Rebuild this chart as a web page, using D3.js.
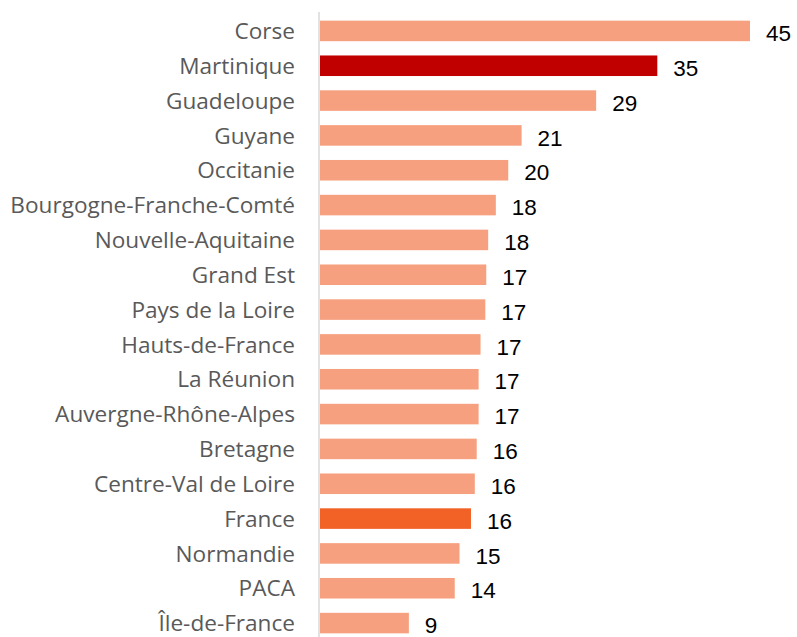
<!DOCTYPE html>
<html>
<head>
<meta charset="utf-8">
<script src="https://cdn.jsdelivr.net/npm/d3@7"></script>
<style>
  body { margin: 0; background: #fff; }
  svg { display: block; }
</style>
</head>
<body>
<svg width="797" height="637"></svg>
<script>
  // regions, top to bottom
  const regions = ["Corse", "Martinique", "Guadeloupe", "Guyane", "Occitanie",
    "Bourgogne-Franche-Comté", "Nouvelle-Aquitaine", "Grand Est", "Pays de la Loire",
    "Hauts-de-France", "La Réunion", "Auvergne-Rhône-Alpes", "Bretagne",
    "Centre-Val de Loire", "France", "Normandie", "PACA", "Île-de-France"];
  const values = [45, 35.3, 28.9, 21.1, 19.7, 18.4, 17.6, 17.4, 17.3,
    16.8, 16.6, 16.6, 16.4, 16.2, 15.8, 14.6, 14.1, 9.3];
  const labels = ["45", "35", "29", "21", "20", "18", "18", "17", "17",
    "17", "17", "17", "16", "16", "16", "15", "14", "9"];

  const data = regions.map((r, i) => ({ region: r, value: values[i], label: labels[i] }));

  const svg = d3.select("svg");

  const x = d3.scaleLinear().domain([0, 45]).range([320, 750]);
  const y = d3.scaleBand().domain(regions).range([13.5, 640.5]).paddingInner(0.41).paddingOuter(0.205);

  const colorOf = d => d.region === "Martinique" ? "#c00000"
    : d.region === "France" ? "#f26125" : "#f7a07f";

  // bars
  svg.selectAll("rect.bar")
    .data(data)
    .enter()
    .append("rect")
    .attr("class", "bar")
    .attr("x", x(0))
    .attr("y", d => y(d.region))
    .attr("width", d => x(d.value) - x(0))
    .attr("height", y.bandwidth())
    .attr("fill", colorOf);

  // vertical axis line
  svg.append("line")
    .attr("x1", 319).attr("x2", 319)
    .attr("y1", 12).attr("y2", 637)
    .attr("stroke", "#d9d9d9")
    .attr("stroke-width", 1.5);

  // category labels
  svg.selectAll("text.cat")
    .data(data)
    .enter()
    .append("text")
    .attr("class", "cat")
    .attr("x", 295)
    .attr("y", d => y(d.region) + y.bandwidth() / 2)
    .attr("dy", "0.36em")
    .attr("text-anchor", "end")
    .attr("font-family", "Open Sans")
    .attr("font-size", 22.6)
    .attr("fill", "#595959")
    .text(d => d.region);

  // value labels
  svg.selectAll("text.val")
    .data(data)
    .enter()
    .append("text")
    .attr("class", "val")
    .attr("x", d => x(d.value) + 16)
    .attr("y", d => y(d.region) + y.bandwidth() / 2 + 2)
    .attr("dy", "0.36em")
    .attr("font-family", "Liberation Sans")
    .attr("font-size", 22.5)
    .attr("fill", "#000")
    .text(d => d.label);
</script>
</body>
</html>
